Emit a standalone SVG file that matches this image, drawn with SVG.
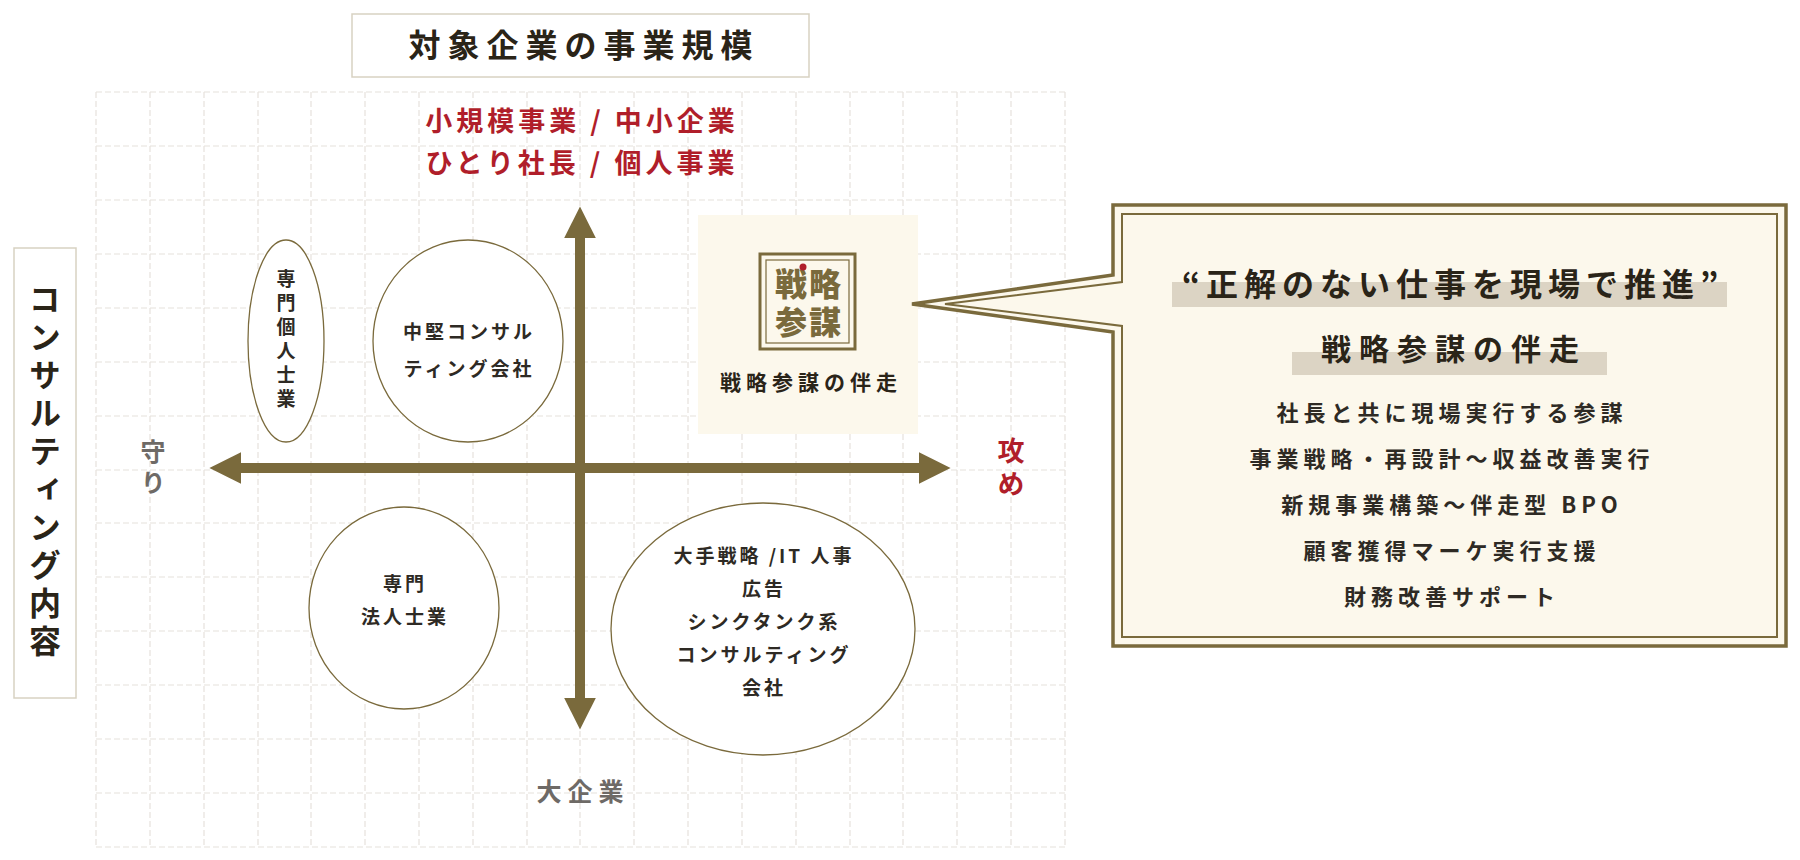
<svg xmlns="http://www.w3.org/2000/svg" width="1800" height="860" viewBox="0 0 1800 860">
<defs>
<style>
.grid line{stroke:#e6e2dc;stroke-width:1.2;stroke-dasharray:6 3}
.ser{font-family:"Noto Sans CJK JP",sans-serif;font-weight:700;fill:#2a2418}
.sans{font-family:"Noto Sans CJK JP",sans-serif;font-weight:700;fill:#2e2a24}
.red{font-family:"Noto Sans CJK JP",sans-serif;font-weight:700;fill:#b01e2a;font-size:27px}
.gray{font-family:"Noto Sans CJK JP",sans-serif;font-weight:700;fill:#6e6a66;font-size:25px}
.ell{fill:#fff;stroke:#7a6a3c;stroke-width:1.3}
.lbl{font-size:19px;text-anchor:middle;letter-spacing:3px}
.vt{writing-mode:vertical-rl}
.logo{font-family:"Noto Sans CJK JP",sans-serif;font-weight:900;font-size:32px;fill:#7a6a3c;text-anchor:middle;letter-spacing:2px}
</style>
<marker id="ah" viewBox="0 0 10 10" refX="2" refY="5" markerWidth="3.2" markerHeight="3.2" orient="auto-start-reverse" markerUnits="strokeWidth"><path d="M0,0 L10,5 L0,10 Z" fill="#7a6a3c"/></marker>
</defs>
<rect width="1800" height="860" fill="#fff"/>
<g class="grid" id="grid">
<line x1="96" y1="92" x2="96" y2="847"/><line x1="150" y1="92" x2="150" y2="847"/><line x1="204" y1="92" x2="204" y2="847"/><line x1="258" y1="92" x2="258" y2="847"/><line x1="311" y1="92" x2="311" y2="847"/><line x1="365" y1="92" x2="365" y2="847"/><line x1="419" y1="92" x2="419" y2="847"/><line x1="473" y1="92" x2="473" y2="847"/><line x1="527" y1="92" x2="527" y2="847"/><line x1="580" y1="92" x2="580" y2="847"/><line x1="634" y1="92" x2="634" y2="847"/><line x1="688" y1="92" x2="688" y2="847"/><line x1="742" y1="92" x2="742" y2="847"/><line x1="796" y1="92" x2="796" y2="847"/><line x1="850" y1="92" x2="850" y2="847"/><line x1="903" y1="92" x2="903" y2="847"/><line x1="957" y1="92" x2="957" y2="847"/><line x1="1011" y1="92" x2="1011" y2="847"/><line x1="1065" y1="92" x2="1065" y2="847"/>
<line x1="96" y1="92" x2="1065" y2="92"/><line x1="96" y1="146" x2="1065" y2="146"/><line x1="96" y1="200" x2="1065" y2="200"/><line x1="96" y1="254" x2="1065" y2="254"/><line x1="96" y1="308" x2="1065" y2="308"/><line x1="96" y1="362" x2="1065" y2="362"/><line x1="96" y1="416" x2="1065" y2="416"/><line x1="96" y1="470" x2="1065" y2="470"/><line x1="96" y1="523" x2="1065" y2="523"/><line x1="96" y1="577" x2="1065" y2="577"/><line x1="96" y1="631" x2="1065" y2="631"/><line x1="96" y1="685" x2="1065" y2="685"/><line x1="96" y1="739" x2="1065" y2="739"/><line x1="96" y1="793" x2="1065" y2="793"/><line x1="96" y1="847" x2="1065" y2="847"/>
</g>
<g id="title"><rect x="352" y="14" width="457" height="63" fill="#fff" stroke="#d8d2c2" stroke-width="1.5"/><text x="584" y="57" class="ser" font-size="32" letter-spacing="7" text-anchor="middle">対象企業の事業規模</text></g>
<g id="yaxis-label"><rect x="14" y="248" width="62" height="450" fill="#fff" stroke="#d8d2c2" stroke-width="1.5"/><text x="45" y="473" class="ser vt" font-size="32" letter-spacing="6" text-anchor="middle">コンサルティング内容</text></g>
<g id="labels">
<text x="582" y="131" class="red" letter-spacing="4" text-anchor="middle">小規模事業 / 中小企業</text>
<text x="582" y="173" class="red" letter-spacing="4" text-anchor="middle">ひとり社長 / 個人事業</text>
<text x="583" y="801" class="gray" letter-spacing="6" text-anchor="middle">大企業</text>
<text x="153" y="470" class="gray vt" letter-spacing="6" text-anchor="middle">守り</text>
<text x="1011" y="470" class="red vt" letter-spacing="6" text-anchor="middle">攻め</text>
</g>
<g id="connectors" stroke="#7a6a3c" stroke-width="10" fill="none">
<line x1="580" y1="232" x2="580" y2="704" marker-start="url(#ah)" marker-end="url(#ah)"/>
<line x1="235" y1="468" x2="925" y2="468" marker-start="url(#ah)" marker-end="url(#ah)"/>
</g>
<g id="n-kojin"><ellipse class="ell" cx="286" cy="341" rx="38" ry="101"/><text x="286" y="341" class="sans vt" font-size="19" letter-spacing="5" text-anchor="middle">専門個人士業</text></g>
<g id="n-chuken"><ellipse class="ell" cx="468" cy="341" rx="95" ry="101"/><text x="469" y="339" class="sans lbl">中堅コンサル</text><text x="469" y="376" class="sans lbl">ティング会社</text></g>
<g id="n-hojin"><ellipse class="ell" cx="404" cy="608" rx="95" ry="101"/><text x="405" y="591" class="sans lbl">専門</text><text x="405" y="624" class="sans lbl">法人士業</text></g>
<g id="n-ote"><ellipse class="ell" cx="763" cy="629" rx="152" ry="126"/>
<text x="764" y="563" class="sans lbl">大手戦略 /IT 人事</text><text x="764" y="596" class="sans lbl">広告</text><text x="764" y="629" class="sans lbl">シンクタンク系</text><text x="764" y="662" class="sans lbl">コンサルティング</text><text x="764" y="695" class="sans lbl">会社</text></g>
<g id="n-senryaku">
<rect x="698" y="215" width="220" height="219" fill="#fcf8ec"/>
<rect x="760" y="254" width="95" height="95" fill="#fcf8ec" stroke="#7a6a3c" stroke-width="3"/>
<rect x="766" y="260" width="83" height="83" fill="none" stroke="#7a6a3c" stroke-width="1.2"/>
<text x="809" y="296" class="logo">戦略</text>
<text x="809" y="334" class="logo">参謀</text>
<circle cx="803" cy="267" r="3.5" fill="#b01e2a"/>
<text x="811" y="390" class="ser" font-size="21" letter-spacing="5" text-anchor="middle">戦略参謀の伴走</text>
</g>
<g id="callout">
<path d="M1113,205 H1786 V646 H1113 V332 L912,304 L1113,275 Z" fill="#fcf8ec" stroke="#7a6a3c" stroke-width="3.5"/>
<path d="M1122,214 H1777 V637 H1122 V326 L945,304 L1122,282 Z" fill="none" stroke="#7a6a3c" stroke-width="2"/>
<rect x="1172" y="282" width="555" height="25" fill="#dcd4c4"/>
<text x="1453" y="296" class="ser" font-size="32" letter-spacing="6" text-anchor="middle">“正解のない仕事を現場で推進”</text>
<rect x="1292" y="352" width="315" height="23" fill="#dcd4c4"/>
<text x="1454" y="360" class="ser" font-size="30" letter-spacing="8" text-anchor="middle">戦略参謀の伴走</text>
<g class="sans" font-size="22" letter-spacing="5" text-anchor="middle" font-weight="500">
<text x="1452" y="421">社長と共に現場実行する参謀</text>
<text x="1452" y="467">事業戦略・再設計〜収益改善実行</text>
<text x="1452" y="513">新規事業構築〜伴走型 BPO</text>
<text x="1452" y="559">顧客獲得マーケ実行支援</text>
<text x="1452" y="605">財務改善サポート</text>
</g>
</g>
</svg>
